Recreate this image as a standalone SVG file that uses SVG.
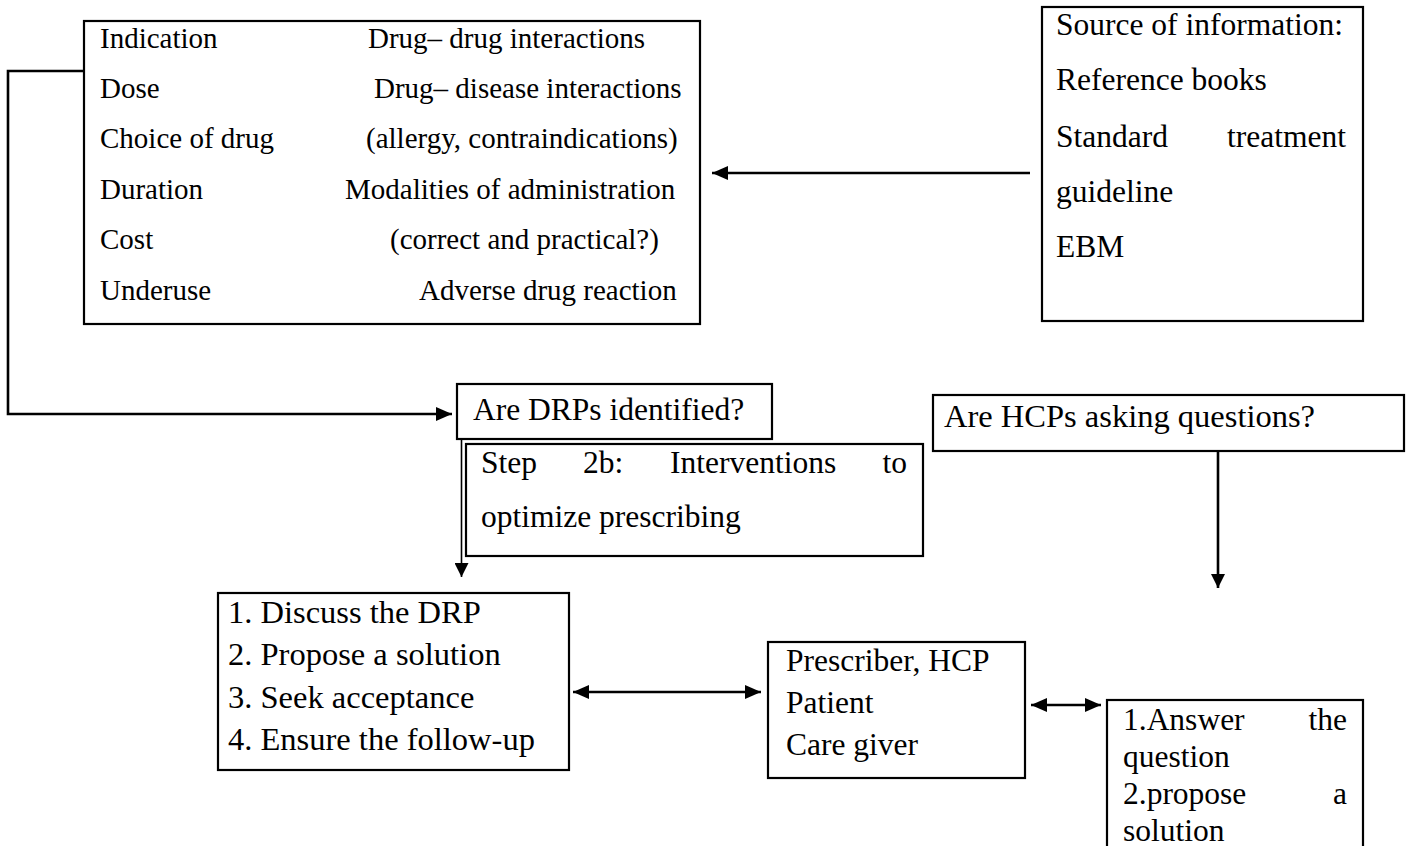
<svg xmlns="http://www.w3.org/2000/svg" width="1408" height="846" viewBox="0 0 1408 846">
<style>
.box{fill:#fff;stroke:#000;stroke-width:2.2}
.t{font-family:"Liberation Serif","Times New Roman",serif;font-size:29px;fill:#000}
.t2{font-family:"Liberation Serif","Times New Roman",serif;font-size:31.5px;fill:#000}
.t3{font-family:"Liberation Serif","Times New Roman",serif;font-size:32.5px;fill:#000}
.c{fill:none;stroke:#000;stroke-width:2.6}
.c1{fill:none;stroke:#000;stroke-width:1.6}
</style>
<defs>
<marker id="ah" viewBox="0 0 16 14" refX="16" refY="7" markerWidth="16" markerHeight="14" markerUnits="userSpaceOnUse" orient="auto-start-reverse"><path d="M0,0 L16,7 L0,14 Z" fill="#000"/></marker>
<marker id="ahs" viewBox="0 0 14 14" refX="14" refY="7" markerWidth="14" markerHeight="14" markerUnits="userSpaceOnUse" orient="auto"><path d="M0,0 L14,7 L0,14 Z" fill="#000"/></marker>
</defs>
<g id="n-checklist">
<rect class="box" x="84" y="21" width="616" height="303"/>
<text class="t" x="100" y="48">Indication</text>
<text class="t" x="100" y="98">Dose</text>
<text class="t" x="100" y="148">Choice of drug</text>
<text class="t" x="100" y="199">Duration</text>
<text class="t" x="100" y="249">Cost</text>
<text class="t" x="100" y="300">Underuse</text>
<text class="t" x="368" y="48">Drug– drug interactions</text>
<text class="t" x="374" y="98">Drug– disease interactions</text>
<text class="t" x="366" y="148">(allergy, contraindications)</text>
<text class="t" x="345" y="199">Modalities of administration</text>
<text class="t" x="390" y="249">(correct and practical?)</text>
<text class="t" x="419" y="300">Adverse drug reaction</text>
</g>
<g id="n-source">
<rect class="box" x="1042" y="7" width="321" height="314"/>
<text class="t2" x="1056" y="35">Source of information:</text>
<text class="t2" x="1056" y="90">Reference books</text>
<text class="t2" x="1056" y="147">Standard</text>
<text class="t2" x="1346" y="147" text-anchor="end">treatment</text>
<text class="t2" x="1056" y="202">guideline</text>
<text class="t2" x="1056" y="257">EBM</text>
</g>
<g id="n-drps">
<rect class="box" x="457" y="384" width="315" height="55"/>
<text class="t2" x="473" y="420">Are DRPs identified?</text>
</g>
<g id="n-step2b">
<rect class="box" x="466" y="444" width="457" height="112"/>
<text class="t2" x="481" y="473">Step</text>
<text class="t2" x="583" y="473">2b:</text>
<text class="t2" x="670" y="473">Interventions</text>
<text class="t2" x="907" y="473" text-anchor="end">to</text>
<text class="t2" x="481" y="527">optimize prescribing</text>
</g>
<g id="n-hcps">
<rect class="box" x="933" y="395" width="471" height="56"/>
<text class="t3" x="944" y="427">Are HCPs asking questions?</text>
</g>
<g id="n-discuss">
<rect class="box" x="218" y="593" width="351" height="177"/>
<text class="t3" x="228" y="623">1. Discuss the DRP</text>
<text class="t3" x="228" y="665">2. Propose a solution</text>
<text class="t3" x="228" y="708">3. Seek acceptance</text>
<text class="t3" x="228" y="750">4. Ensure the follow-up</text>
</g>
<g id="n-prescriber">
<rect class="box" x="768" y="642" width="257" height="136"/>
<text class="t2" x="786" y="671">Prescriber, HCP</text>
<text class="t2" x="786" y="713">Patient</text>
<text class="t2" x="786" y="755">Care giver</text>
</g>
<g id="n-answer">
<rect class="box" x="1107" y="700" width="256" height="160"/>
<text class="t2" x="1123" y="730">1.Answer</text>
<text class="t2" x="1347" y="730" text-anchor="end">the</text>
<text class="t2" x="1123" y="767">question</text>
<text class="t2" x="1123" y="804">2.propose</text>
<text class="t2" x="1347" y="804" text-anchor="end">a</text>
<text class="t2" x="1123" y="841">solution</text>
</g>
<g id="connectors">
<polyline class="c" points="84,71 8,71 8,414 452,414" marker-end="url(#ah)"/>
<line class="c" x1="1030" y1="173" x2="712" y2="173" marker-end="url(#ah)"/>
<line class="c1" x1="461.5" y1="438" x2="461.5" y2="577" marker-end="url(#ahs)"/>
<line class="c" x1="1218" y1="451" x2="1218" y2="588" marker-end="url(#ahs)"/>
<line class="c" x1="573" y1="692" x2="761" y2="692" marker-start="url(#ah)" marker-end="url(#ah)"/>
<line class="c" x1="1031" y1="705" x2="1101" y2="705" marker-start="url(#ah)" marker-end="url(#ah)"/>
</g>
</svg>
